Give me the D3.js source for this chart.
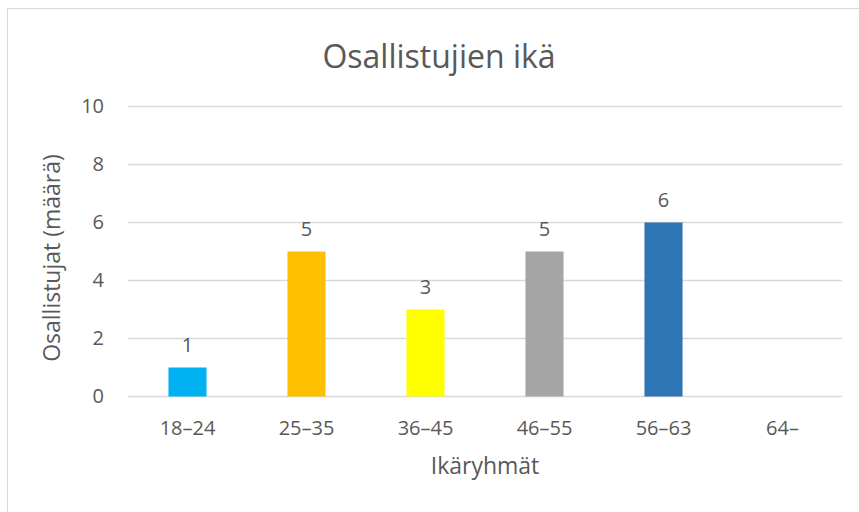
<!DOCTYPE html>
<html>
<head>
<meta charset="utf-8">
<script src="https://cdnjs.cloudflare.com/ajax/libs/d3/7.8.5/d3.min.js"></script>
<style>
  body { margin: 0; background: #fff; }
  text { font-family: "Open Sans", sans-serif; fill: #595959; }
</style>
</head>
<body>
<div id="chart"></div>
<script>
let ageGroups = ['18–24', '25–35', '36–45', '46–55', '56–63', '64–'];
let counts = [1, 5, 3, 5, 6, 0];
let barColors = ['#00B0F0', '#FFC000', '#FFFF00', '#A5A5A5', '#2E75B6', '#4472C4'];
let yTicks = [0, 2, 4, 6, 8, 10];

let svgWidth = 859;
let svgHeight = 512;

let margin = { top: 106.5, right: 17, bottom: 115.5, left: 128 };
let width = svgWidth - margin.left - margin.right;
let height = svgHeight - margin.top - margin.bottom;

let svg = d3.select('#chart')
    .append('svg')
    .attr('width', svgWidth)
    .attr('height', svgHeight);

// chart area border
svg.append('rect')
    .attr('x', 7.5)
    .attr('y', 8.5)
    .attr('width', svgWidth)
    .attr('height', svgHeight)
    .attr('fill', 'none')
    .attr('stroke', '#d9d9d9')
    .attr('stroke-width', 1);

let chartGroup = svg.append('g')
    .attr('transform', `translate(${margin.left}, ${margin.top})`);

let xScale = d3.scaleBand()
    .domain(ageGroups)
    .range([0, width])
    .paddingInner(0.68)
    .paddingOuter(0.34);

let yScale = d3.scaleLinear()
    .domain([0, 10])
    .range([height, 0]);

// gridlines
chartGroup.append('g')
    .selectAll('line')
    .data(yTicks)
    .enter()
    .append('line')
    .attr('x1', 0)
    .attr('x2', width)
    .attr('y1', d => yScale(d))
    .attr('y2', d => yScale(d))
    .attr('stroke', '#d9d9d9')
    .attr('stroke-width', 1.3);

// y axis labels
let leftAxis = d3.axisLeft(yScale).tickValues(yTicks).tickSize(0).tickPadding(24);
chartGroup.append('g')
    .call(leftAxis)
    .call(g => g.select('.domain').remove())
    .selectAll('text')
    .attr('font-size', 20)
    .attr('font-family', '"Open Sans", sans-serif')
    .attr('fill', '#595959');

// x axis labels
let bottomAxis = d3.axisBottom(xScale).tickSize(0).tickPadding(24);
chartGroup.append('g')
    .attr('transform', `translate(0, ${height})`)
    .call(bottomAxis)
    .call(g => g.select('.domain').remove())
    .selectAll('text')
    .attr('font-size', 20)
    .attr('font-family', '"Open Sans", sans-serif')
    .attr('fill', '#595959');

// bars
chartGroup.selectAll('rect.bar')
    .data(counts)
    .enter()
    .append('rect')
    .attr('class', 'bar')
    .attr('x', (d, i) => xScale(ageGroups[i]))
    .attr('y', d => yScale(d))
    .attr('width', xScale.bandwidth())
    .attr('height', d => height - yScale(d))
    .attr('fill', (d, i) => barColors[i]);

// value labels (no label for empty group)
chartGroup.selectAll('text.value')
    .data(counts.map((d, i) => ({ group: ageGroups[i], value: d })).filter(d => d.value > 0))
    .enter()
    .append('text')
    .attr('class', 'value')
    .attr('x', d => xScale(d.group) + xScale.bandwidth() / 2)
    .attr('y', d => yScale(d.value) - 16)
    .attr('text-anchor', 'middle')
    .attr('font-size', 20)
    .text(d => d.value);

// title
svg.append('text')
    .attr('x', 439)
    .attr('y', 68)
    .attr('text-anchor', 'middle')
    .attr('font-size', 32)
    .text('Osallistujien ikä');

// axis titles
svg.append('text')
    .attr('x', 485)
    .attr('y', 474)
    .attr('text-anchor', 'middle')
    .attr('font-size', 23)
    .text('Ikäryhmät');

svg.append('text')
    .attr('transform', 'translate(60, 258) rotate(-90)')
    .attr('text-anchor', 'middle')
    .attr('font-size', 23)
    .text('Osallistujat (määrä)');
</script>
</body>
</html>
